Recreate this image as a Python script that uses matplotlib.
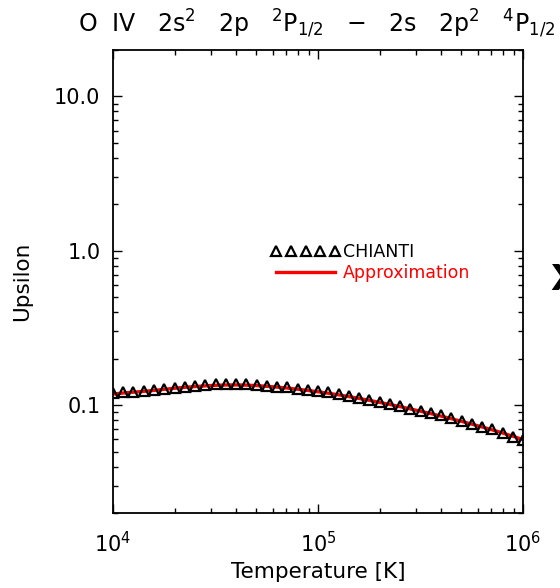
import matplotlib
matplotlib.use('Agg')
import matplotlib.pyplot as plt
import numpy as np

plt.rcParams['font.family'] = ['DejaVu Sans']
plt.rcParams['mathtext.fontset'] = 'dejavusans'

# 数据：温度 (log10 T) 与 Upsilon
log_temp = [4.00, 4.05, 4.10, 4.15, 4.20, 4.25, 4.30, 4.35, 4.40, 4.45,
            4.50, 4.55, 4.60, 4.65, 4.70, 4.75, 4.80, 4.85, 4.90, 4.95,
            5.00, 5.05, 5.10, 5.15, 5.20, 5.25, 5.30, 5.35, 5.40, 5.45,
            5.50, 5.55, 5.60, 5.65, 5.70, 5.75, 5.80, 5.85, 5.90, 5.95, 6.00]
chianti = [0.1190, 0.1208, 0.1219, 0.1232, 0.1251, 0.1275, 0.1294, 0.1314, 0.1327, 0.1347,
           0.1361, 0.1367, 0.1367, 0.1361, 0.1341, 0.1327, 0.1314, 0.1302, 0.1275, 0.1251,
           0.1232, 0.1208, 0.1173, 0.1143, 0.1105, 0.1077, 0.1050, 0.1019, 0.0985, 0.0946,
           0.0919, 0.0892, 0.0858, 0.0824, 0.0791, 0.0753, 0.0724, 0.0696, 0.0662, 0.0623, 0.0594]
approx = [0.1180, 0.1198, 0.1213, 0.1228, 0.1246, 0.1266, 0.1286, 0.1304, 0.1319, 0.1333,
          0.1344, 0.1350, 0.1352, 0.1348, 0.1338, 0.1324, 0.1308, 0.1290, 0.1268, 0.1245,
          0.1220, 0.1194, 0.1166, 0.1136, 0.1105, 0.1074, 0.1042, 0.1010, 0.0978, 0.0945,
          0.0913, 0.0881, 0.0849, 0.0817, 0.0785, 0.0753, 0.0722, 0.0691, 0.0660, 0.0629, 0.0598]

ytick_vals = [0.1, 1.0, 10.0]
ytick_labels = ['0.1', '1.0', '10.0']

temp = 10.0 ** np.array(log_temp)

fig = plt.figure(figsize=(5.6, 5.88), dpi=100)
ax = fig.add_axes([113 / 560, 1 - 513 / 588, 410 / 560, 463 / 588])

ax.plot(temp, approx, color='red', lw=2.4, label='Approximation', zorder=2)
ax.plot(temp, chianti, ls='none', marker='^', ms=6.5, mfc='none', mec='black',
        mew=1.6, label='CHIANTI', zorder=3)

ax.set_xscale('log')
ax.set_yscale('log')
ax.set_xlim(1e4, 1e6)
ax.set_ylim(0.02, 20)
ax.set_yticks(ytick_vals, labels=ytick_labels)

for sp in ax.spines.values():
    sp.set_linewidth(1.3)
ax.tick_params(which='both', direction='in', top=True, right=True, width=1.0)
ax.tick_params(which='major', length=6.5, labelsize=15)
ax.tick_params(which='minor', length=3.6)
ax.tick_params(axis='x', pad=13)
ax.tick_params(axis='y', pad=9)

ax.set_xlabel('Temperature [K]', fontsize=15.5, labelpad=4)
ax.set_ylabel('Upsilon', fontsize=15.5, labelpad=16)

handles, labels = ax.get_legend_handles_labels()
leg = ax.legend(handles[::-1], labels[::-1], loc='upper left',
                bbox_to_anchor=(0.385, 0.583), frameon=False, numpoints=5,
                handlelength=4.0, handletextpad=0.15, labelspacing=0.15,
                borderaxespad=0, borderpad=0, fontsize=12.5)
leg.get_texts()[1].set_color('red')

fig.text(78 / 560, 1 - 32 / 588,
         r'O  IV   2s$^2$   2p   $^2$P$_{1/2}$   $-$   2s   2p$^2$   $^4$P$_{1/2}$',
         fontsize=17, ha='left', va='baseline')

# 右边缘被截断的字符
fig.text(550 / 560, 1 - 280 / 588, 'X', fontsize=26, fontweight='bold',
         ha='left', va='center')

fig.savefig('out.png', dpi=100)
